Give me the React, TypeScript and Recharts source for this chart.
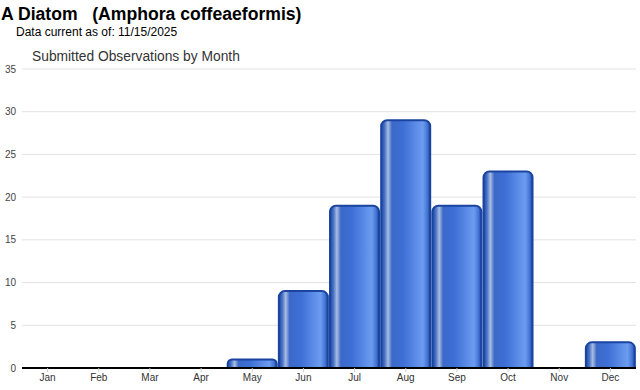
import React from 'react';
import { BarChart, Bar, XAxis, YAxis, CartesianGrid } from 'recharts';

const months = ['Jan', 'Feb', 'Mar', 'Apr', 'May', 'Jun', 'Jul', 'Aug', 'Sep', 'Oct', 'Nov', 'Dec'];
const observations = [0, 0, 0, 0, 1, 9, 19, 29, 19, 23, 0, 3];
const yTicks = [0, 5, 10, 15, 20, 25, 30, 35];

const data = months.map((m, i) => ({ month: m, count: observations[i] }));

const FONT = 'Arial, "Liberation Sans", sans-serif';

export default function App() {
  return (
    <div
      style={{
        position: 'absolute',
        left: 0,
        top: 0,
        width: 640,
        height: 390,
        background: '#fff',
        fontFamily: FONT,
        overflow: 'hidden',
      }}
    >
      <div style={{ position: 'absolute', left: 1, top: 4, fontSize: 17.6, fontWeight: 'bold', color: '#000', whiteSpace: 'pre' }}>
        {'A Diatom   (Amphora coffeaeformis)'}
      </div>
      <div style={{ position: 'absolute', left: 16, top: 25, fontSize: 12, color: '#000' }}>
        Data current as of: 11/15/2025
      </div>
      <div style={{ position: 'absolute', left: 32, top: 49, fontSize: 13.8, color: '#333' }}>
        Submitted Observations by Month
      </div>
      <BarChart
        width={640}
        height={390}
        data={data}
        margin={{ top: 69, right: 4, bottom: 0, left: 0 }}
        barCategoryGap="2%"
        style={{ position: 'absolute', left: 0, top: 0 }}
      >
        <defs>
          <linearGradient id="barGrad" x1="0" y1="0" x2="1" y2="0">
            <stop offset="0" stopColor="#1846a4" />
            <stop offset="0.07" stopColor="#4872c4" />
            <stop offset="0.14" stopColor="#a9bde2" />
            <stop offset="0.22" stopColor="#3c69c8" />
            <stop offset="0.45" stopColor="#3d6fd6" />
            <stop offset="0.85" stopColor="#6c9cf0" />
            <stop offset="0.94" stopColor="#4676d4" />
            <stop offset="1" stopColor="#1846a4" />
          </linearGradient>
        </defs>
        <CartesianGrid vertical={false} stroke="#e2e2e2" />
        <XAxis
          dataKey="month"
          height={22}
          interval={0}
          axisLine={{ stroke: '#000', strokeWidth: 2 }}
          tickLine={{ stroke: '#ccc' }}
          tickSize={4}
          tickMargin={2}
          tick={{ fontSize: 10, fill: '#333', fontFamily: FONT }}
        />
        <YAxis
          width={22}
          domain={[0, 35]}
          ticks={yTicks}
          interval={0}
          axisLine={false}
          tickLine={false}
          tickSize={4}
          tickMargin={2}
          tick={{ fontSize: 10, fill: '#444', fontFamily: FONT }}
        />
        <Bar
          dataKey="count"
          fill="url(#barGrad)"
          stroke="#1a44a0"
          strokeWidth={2}
          radius={[6, 6, 0, 0]}
          isAnimationActive={false}
        />
      </BarChart>
    </div>
  );
}
